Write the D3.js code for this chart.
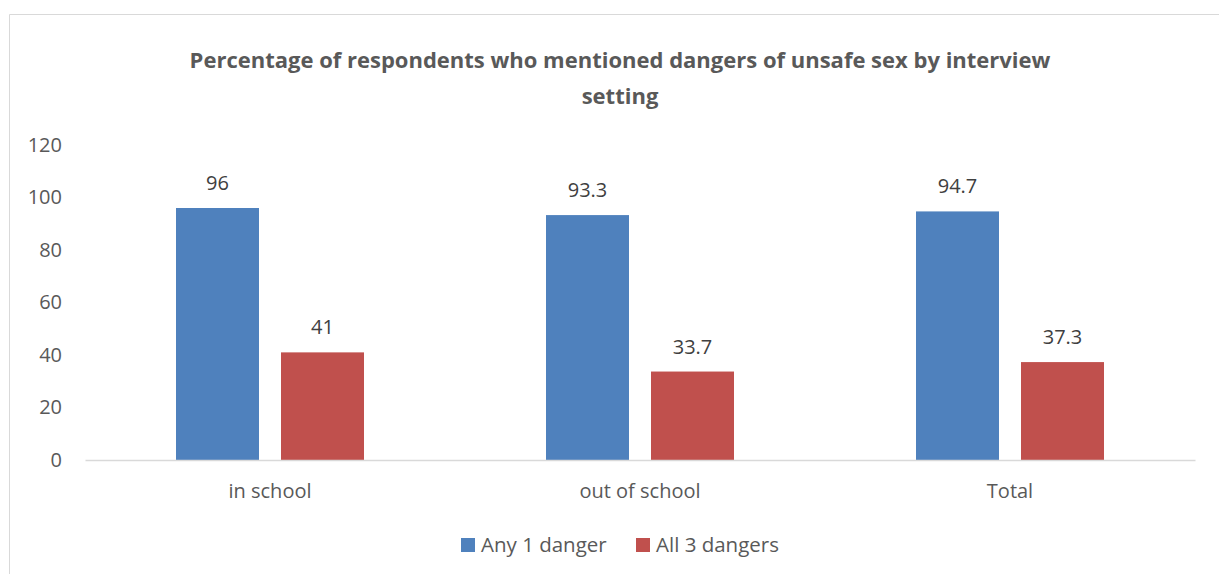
<!DOCTYPE html>
<html><head><meta charset="utf-8">
<script src="https://cdn.jsdelivr.net/npm/d3@7"></script>
<style>body{margin:0;background:#fff}svg{display:block}</style>
</head><body>
<script>
const categories = ["in school", "out of school", "Total"];
const seriesNames = ["Any 1 danger", "All 3 dangers"];
const any1 = [96, 93.3, 94.7];
const all3 = [41, 33.7, 37.3];
const yTicks = [0, 20, 40, 60, 80, 100, 120];
const colors = ["#4F81BD", "#C0504D"];

const W = 1219, H = 574;
const svg = d3.select("body").append("svg").attr("width", W).attr("height", H);
const font = "'Open Sans', 'Liberation Sans', sans-serif";

// chart border (top and left visible)
svg.append("path").attr("d", `M9.5,${H} V14.5 H${W}`).attr("fill", "none").attr("stroke", "#D9D9D9").attr("stroke-width", 1);

const x0 = d3.scaleBand().domain(categories).range([85, 1195]).paddingInner(0).paddingOuter(0);
const y = d3.scaleLinear().domain([0, 120]).range([460, 145]);

const barW = 83, gap = 22;
const data = categories.map((c, i) => ({c, vals: [any1[i], all3[i]]}));

// title
const title = svg.append("text").attr("text-anchor", "middle").attr("font-family", font)
  .attr("font-weight", "bold").attr("font-size", 22).attr("fill", "#595959");
title.append("tspan").attr("x", 620).attr("y", 68).text("Percentage of respondents who mentioned dangers of unsafe sex by interview");
title.append("tspan").attr("x", 620).attr("y", 104).text("setting");

// y axis labels
const yAxis = d3.axisLeft(y).tickValues(yTicks).tickSize(0).tickPadding(0);
const yg = svg.append("g").attr("transform", "translate(62,0)").call(yAxis);
yg.select(".domain").remove();
yg.selectAll("text").attr("font-family", font).attr("font-size", 20).attr("fill", "#595959");

// bars
const g = svg.append("g");
data.forEach(d => {
  const cx = x0(d.c) + x0.bandwidth() / 2;
  d.vals.forEach((v, j) => {
    const bx = j === 0 ? cx - gap / 2 - barW : cx + gap / 2;
    g.append("rect").attr("x", bx).attr("y", y(v)).attr("width", barW).attr("height", y(0) - y(v)).attr("fill", colors[j]);
    g.append("text").attr("x", bx + barW / 2).attr("y", y(v) - 18).attr("text-anchor", "middle")
      .attr("font-family", font).attr("font-size", 20).attr("fill", "#404040").text(v);
  });
});

// x axis
const xAxis = d3.axisBottom(x0).tickSize(0).tickPadding(0);
const xg = svg.append("g").attr("transform", `translate(0,${y(0)})`).call(xAxis);
xg.select(".domain").attr("stroke", "#D9D9D9").attr("stroke-width", 1.5);
xg.selectAll("text").attr("dy", null).attr("y", 38).attr("font-family", font).attr("font-size", 20).attr("fill", "#595959");

// legend
const legendX = [461, 636];
seriesNames.forEach((n, i) => {
  svg.append("rect").attr("x", legendX[i]).attr("y", 538).attr("width", 14).attr("height", 14).attr("fill", colors[i]);
  svg.append("text").attr("x", legendX[i] + 20).attr("y", 552).attr("font-family", font).attr("font-size", 20.5).attr("fill", "#595959").text(n);
});
</script>
</body></html>
